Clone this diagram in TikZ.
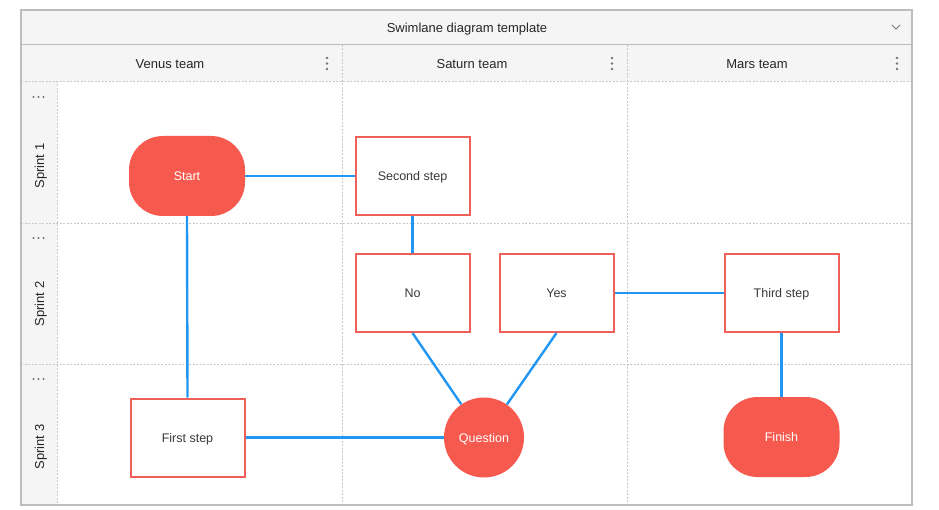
\documentclass[tikz,border=0pt]{standalone}
\usepackage{fontspec}
\setmainfont{Liberation Sans}
\definecolor{hdr}{HTML}{F5F5F5}
\definecolor{gridc}{HTML}{C8C8C8}
\definecolor{framec}{HTML}{BDBDBD}
\definecolor{redf}{HTML}{F65A4F}
\definecolor{redl}{HTML}{F0605A}
\definecolor{bluel}{HTML}{2196F3}
\definecolor{txt}{HTML}{3A3A3A}
\definecolor{htxt}{HTML}{262626}
\definecolor{iconc}{HTML}{757575}
\begin{document}
\begin{tikzpicture}[x=1pt,y=-1pt,
  gridline/.style={draw=gridc,line width=0.8pt,dash pattern=on 2pt off 1.5pt},
  headtext/.style={text=htxt,font=\fontsize{13}{15}\selectfont,inner sep=0pt,text height=9.3pt,text depth=0pt},
  rowtext/.style={text=htxt,font=\fontsize{13}{15}\selectfont,inner sep=0pt,rotate=90,text height=9.3pt,text depth=0pt},
  stepbox/.style={draw=redl,line width=2pt,fill=white,minimum width=114pt,minimum height=78pt,text=txt,font=\fontsize{12.5}{14}\selectfont,text height=9pt,text depth=0pt},
  termbox/.style={fill=redf,rounded corners=34pt,minimum width=116pt,minimum height=80pt,text=white,font=\fontsize{12.5}{14}\selectfont,text height=9pt,text depth=0pt},
  qcircle/.style={circle,fill=redf,minimum size=80pt,inner sep=0pt,text=white,font=\fontsize{12.5}{14}\selectfont,text height=9pt,text depth=0pt},
  edge/.style={draw=bluel,line width=2.4pt},
  dot/.style={circle,fill=iconc,inner sep=0pt,minimum size=2.6pt}]
\useasboundingbox (0,0) rectangle (939,510);
\fill[white] (0,0) rectangle (939,510);
% header backgrounds
\fill[hdr] (21,10) rectangle (912,81);
\fill[hdr] (21,81) rectangle (57,505);
% grid lines
\draw[gridline] (342,45) -- (342,505);
\draw[gridline] (627,45) -- (627,505);
\draw[gridline] (57,81) -- (57,505);
\draw[gridline] (21,81) -- (912,81);
\draw[gridline] (21,223) -- (912,223);
\draw[gridline] (21,364) -- (912,364);
\draw[draw=framec,line width=1pt] (21,45) -- (912,45);
\draw[draw=framec,line width=1.2pt] (21,10) rectangle (912,505);
% title
\node[headtext] (title) at (467,27.5) {Swimlane diagram template};
\coordinate (chev) at (896,27);
\draw[iconc,line width=0.9pt] ([xshift=-4pt,yshift=2pt]chev) -- ([yshift=-2pt]chev) -- ([xshift=4pt,yshift=2pt]chev);
% column headers
\node[headtext] (venus) at (170,63.5) {Venus team};
\node[headtext] (saturn) at (472,63.5) {Saturn team};
\node[headtext] (mars) at (757,63.5) {Mars team};
\foreach \x in {327,612,897}{
  \node[dot] at (\x,58) {};
  \node[dot] at (\x,63.5) {};
  \node[dot] at (\x,69) {};
}
% row headers
\node[rowtext] (s1) at (39.5,166) {Sprint 1};
\node[rowtext] (s2) at (39.5,304) {Sprint 2};
\node[rowtext] (s3) at (39.5,447) {Sprint 3};
\foreach \y in {97,238,379}{
  \node[dot,minimum size=2.4pt] at (33.5,\y) {};
  \node[dot,minimum size=2.4pt] at (38.5,\y) {};
  \node[dot,minimum size=2.4pt] at (43.5,\y) {};
}
% nodes
\node[termbox] (start) at (187,176) {Start};
\node[stepbox] (second) at (412.5,176) {Second step};
\node[stepbox] (no) at (412.5,293) {No};
\node[stepbox] (yes) at (556.5,293) {Yes};
\node[stepbox] (third) at (781.5,293) {Third step};
\node[stepbox] (first) at (187.5,437.5) {First step};
\node[qcircle] (q) at (484,437.5) {Question};
\node[termbox] (finish) at (781.5,437) {Finish};
% edges
\draw[edge] (start.east) -- (second.west);
\draw[edge] (start.south) -- (first.north);
\draw[edge] (second.south) -- (no.north);
\draw[edge] (no.south) -- (q);
\draw[edge] (yes.south) -- (q);
\draw[edge] (yes.east) -- (third.west);
\draw[edge] (third.south) -- (finish.north);
\draw[edge] (first.east) -- (q.west);
\end{tikzpicture}
\end{document}
